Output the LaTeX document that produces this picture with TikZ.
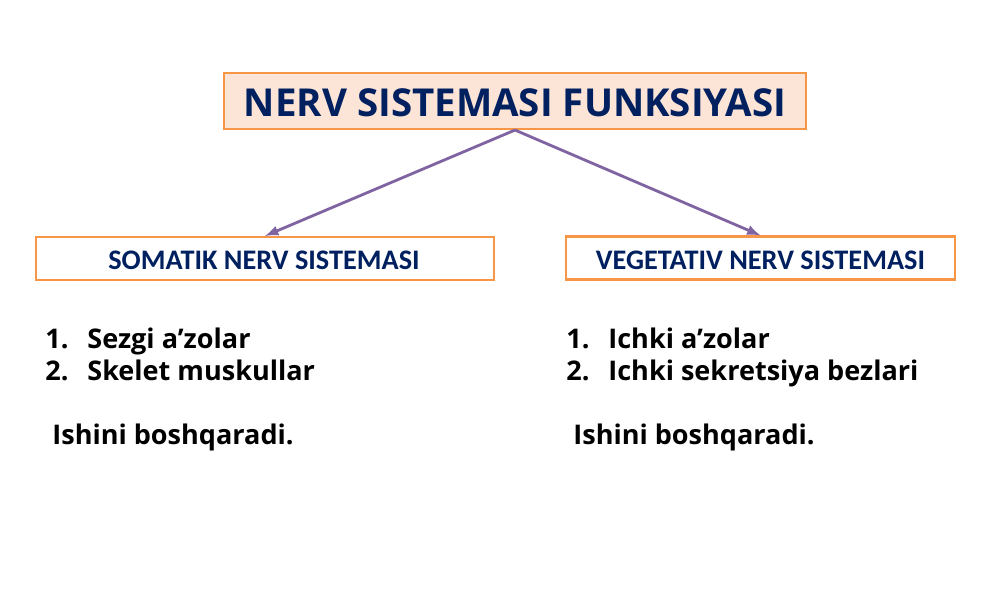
\documentclass[tikz,border=0pt]{standalone}
\usepackage{fontspec}
\setmainfont{Open Sans}
\newfontfamily\subfont{Carlito}
\usetikzlibrary{arrows,shapes,positioning}
\definecolor{navy}{HTML}{002060}
\definecolor{boxorange}{HTML}{F79646}
\definecolor{peach}{HTML}{FCE4D6}
\definecolor{arrowpurple}{HTML}{8064A2}
\begin{document}
\begin{tikzpicture}[x=0.02cm,y=-0.02cm]
                \tikzstyle{every node}+=[inner sep=0pt]
                \tikzstyle{mainbox}=[draw=boxorange,line width=1.2pt,fill=peach,minimum width=11.64cm,minimum height=1.12cm]
                \tikzstyle{subbox}=[draw=boxorange,line width=1.2pt,fill=white,minimum height=0.86cm]
                \tikzstyle{item}=[anchor=base west,font=\bfseries\fontsize{15.4}{18}\selectfont]
                \tikzstyle{link}=[draw=arrowpurple,line width=1.6pt,-latex]
                \useasboundingbox (0,0) rectangle (1000,596);
                % title
                \node [mainbox] (title) at (515,101) {};
                \node [anchor=base,text=navy,font=\bfseries\fontsize{21.9}{25}\selectfont] (titletext) at (515,116) {NERV SISTEMASI FUNKSIYASI};
                % two branches
                \node [subbox,minimum width=9.16cm] (somatik) at (265,258.5) {};
                \node [anchor=base,text=navy,font=\subfont\bfseries\fontsize{16.1}{19}\selectfont] (somatiktext) at (264,269) {SOMATIK NERV SISTEMASI};
                \node [subbox,minimum width=7.78cm] (vegetativ) at (760.5,258) {};
                \node [anchor=base,text=navy,font=\subfont\bfseries\fontsize{16.1}{19}\selectfont] (vegetativtext) at (760.5,269) {VEGETATIV NERV SISTEMASI};
                \draw [link] (title.south) -- (somatik.north);
                \draw [link] (title.south) -- (vegetativ.north);
                % left list
                \node [item] (sone) at (45,348) {1.};
                \node [item] (sonetext) at (87,348) {Sezgi a’zolar};
                \node [item] (stwo) at (45,380) {2.};
                \node [item] (stwotext) at (87,380) {Skelet muskullar};
                \node [item] (sish) at (52,444) {Ishini boshqaradi.};
                % right list
                \node [item] (vone) at (566,348) {1.};
                \node [item] (vonetext) at (608,348) {Ichki a’zolar};
                \node [item] (vtwo) at (566,380) {2.};
                \node [item] (vtwotext) at (608,380) {Ichki sekretsiya bezlari};
                \node [item] (vish) at (573,444) {Ishini boshqaradi.};
\end{tikzpicture}
\end{document}
